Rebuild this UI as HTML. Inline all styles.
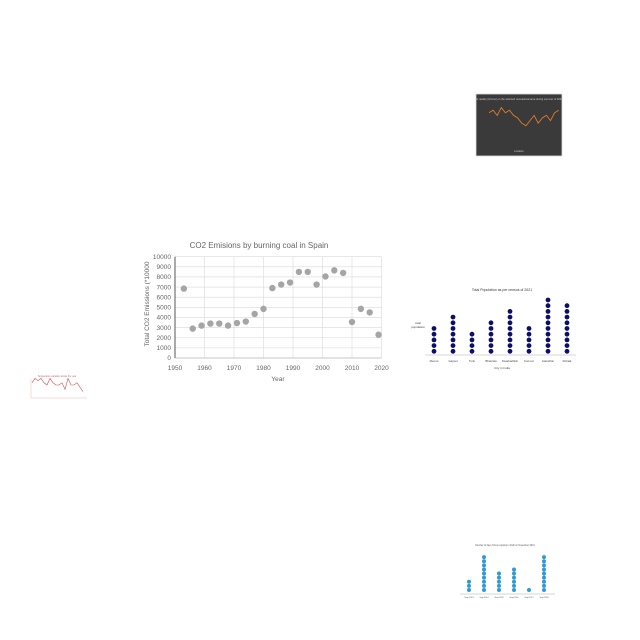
<!DOCTYPE html>
<html><head><meta charset="utf-8"><style>
body{margin:0;background:#fff;}
svg{display:block;font-family:"Liberation Sans",sans-serif;}
</style></head><body>
<svg id="s" width="640" height="640">
<rect x="476" y="94" width="86" height="62" fill="#3a3a3a" stroke="#ddd" stroke-width="0.8"/>
<text x="519" y="100" font-size="2.6" fill="#ccc" text-anchor="middle">Air quality (Ozone) on the selected recreational area during summer of 2020</text>
<text x="519" y="152" font-size="2.5" fill="#ccc" text-anchor="middle">Location</text>
<g id="dark"></g>
<g id="red"></g>
<text x="57" y="377" font-size="2.3" fill="#c66" text-anchor="middle">Temperature variation across the year</text>
<g id="main"></g>
<g id="pop"></g>
<g id="blue"></g>
</svg>
<script>
const years=[1953,1956,1959,1962,1965,1968,1971,1974,1977,1980,1983,1986,1989,1992,1995,1998,2001,2004,2007,2010,2013,2016,2019];
const emissions=[6850,2900,3200,3400,3400,3200,3450,3600,4350,4850,6900,7250,7450,8500,8500,7250,8050,8650,8400,3550,4850,4500,2300];
const xTicks=[1950,1960,1970,1980,1990,2000,2010,2020];
const yTicks=[0,1000,2000,3000,4000,5000,6000,7000,8000,9000,10000];
const popCities=["Meerut","Gajroul","Tonk","Bhatinda","Dwarkadhish","Kurnool","Jalandhar","Rohtak"];
const popValues=[5,7,4,6,8,5,10,9];
const blueCats=["Sept 2013","Sept 2014","Sept 2015","Sept 2016","Sept 2017","Sept 2018"];
const blueValues=[3,9,5,6,1,9];
const darkValues=[7,8,6,9,7,8,6,5,3,2,4,6,3,5,6,4,7,8];
const redValues=[6,8,7,8,6,5,8,6,5,5,6,3,8,5,5,6,4,2];
const NS="http://www.w3.org/2000/svg";
function mk(p,t,a,txt){const e=document.createElementNS(NS,t);for(const k in a)e.setAttribute(k,a[k]);if(txt!==undefined)e.textContent=txt;p.appendChild(e);return e;}
const m=document.getElementById('main');
const X=v=>175+(v-1950)/70*206.5, Y=v=>358-v/10000*101.3;
yTicks.forEach(t=>{const l=mk(m,'line',{x1:175,x2:381.5,y1:Y(t),y2:Y(t),stroke:'#d9d9d9','stroke-width':0.6});

const tx=mk(m,'text',{x:171,y:Y(t)+2.2,'font-size':6.5,fill:'#666','text-anchor':'end'},t);
});
xTicks.forEach(t=>{const l=mk(m,'line',{x1:X(t),x2:X(t),y1:Y(0),y2:Y(10000),stroke:'#d9d9d9','stroke-width':0.6});

const tx=mk(m,'text',{x:X(t),y:370,'font-size':6.5,fill:'#666','text-anchor':'middle'},t);
});
let ax=mk(m,'line',{x1:175,x2:175,y1:Y(0),y2:Y(10000),stroke:'#555','stroke-width':1});

ax=mk(m,'line',{x1:175,x2:381.5,y1:Y(0),y2:Y(0),stroke:'#bbb','stroke-width':0.8});

years.forEach((yr,i)=>{const c=mk(m,'circle',{cx:X(yr),cy:Y(emissions[i]),r:3.2,fill:'#a5a5a5'});
});
let t=mk(m,'text',{x:259,y:248,'font-size':8,fill:'#666','text-anchor':'middle'},'CO2 Emisions by burning coal in Spain');

t=mk(m,'text',{x:278,y:381,'font-size':6.5,fill:'#666','text-anchor':'middle'},'Year');

t=mk(m,'text',{x:149,y:304,'font-size':6.5,fill:'#666','text-anchor':'middle',transform:'rotate(-90 149 304)'},'Total CO2 Emissions (*10000');

const p=document.getElementById('pop');
const PX=i=>434+i*19, PY=v=>353-v*5.7;
t=mk(p,'text',{x:502,y:291,'font-size':3.5,fill:'#333','text-anchor':'middle'},'Total Population as per census of 2021');

t=mk(p,'line',{x1:425,x2:576,y1:355,y2:355,stroke:'#999','stroke-width':0.4});

t=mk(p,'text',{x:502,y:369,'font-size':3,fill:'#444','text-anchor':'middle'},'City in India');

t=mk(p,'text',{x:418,y:324,'font-size':3,fill:'#444','text-anchor':'middle'},'total');

t=mk(p,'text',{x:418,y:328,'font-size':3,fill:'#444','text-anchor':'middle'},'population');

popCities.forEach((c,i)=>{for(let k=0;k<popValues[i];k++){const d=mk(p,'circle',{cx:PX(i),cy:PY(k+0.3),r:2.4,fill:'#0d0d6b'});
}
const tx=mk(p,'text',{x:PX(i),y:362,'font-size':2.8,fill:'#444','text-anchor':'middle'},c);
});
const b=document.getElementById('blue');
const BX=i=>469+i*15, BY=v=>592-v*4.1;
t=mk(b,'text',{x:505,y:546,'font-size':2.3,fill:'#555','text-anchor':'middle'},'Number of days Ozone topping in Delhi in November 2021');

t=mk(b,'line',{x1:460,x2:555,y1:594,y2:594,stroke:'#999','stroke-width':0.4});

blueCats.forEach((c,i)=>{for(let k=0;k<blueValues[i];k++){const d=mk(b,'circle',{cx:BX(i),cy:BY(k+0.5),r:2,fill:'#2e9bd6'});
}
const tx=mk(b,'text',{x:BX(i),y:598,'font-size':2,fill:'#555','text-anchor':'middle'},c);
});
const dk=document.getElementById('dark');
let pts=darkValues.map((v,i)=>(489+i*4.1)+','+(131-v*2.6)).join(' ');
t=mk(dk,'polyline',{points:pts,fill:'none',stroke:'#e07b2c','stroke-width':0.9});

const rd=document.getElementById('red');
pts=redValues.map((v,i)=>(32+i*3)+','+(396-v*2.2)).join(' ');
t=mk(rd,'polyline',{points:pts,fill:'none',stroke:'#d05050','stroke-width':0.6});

t=mk(rd,'line',{x1:31,x2:87,y1:398,y2:398,stroke:'#d88','stroke-width':0.3});

t=mk(rd,'line',{x1:31,x2:31,y1:379,y2:398,stroke:'#d88','stroke-width':0.3});

</script>
</body></html>
